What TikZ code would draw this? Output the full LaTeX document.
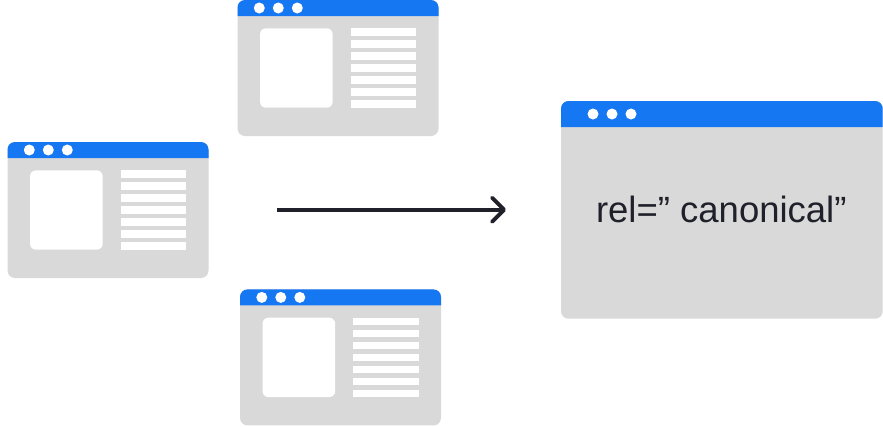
\documentclass[tikz,border=0pt]{standalone}
\usepackage{fontspec}
\setmainfont{Liberation Sans}
\usetikzlibrary{positioning,calc,arrows.meta}
\definecolor{framegray}{HTML}{D9D9D9}
\definecolor{headerblue}{HTML}{1677F2}
\definecolor{inkdark}{HTML}{1F2029}
\tikzset{
  frame body/.style={fill=framegray, rounded corners=7.5pt},
  frame header/.style={fill=headerblue},
  frame dot/.style={fill=white},
  content box/.style={fill=white, rounded corners=6pt},
  content line/.style={fill=white},
  pics/browserframe/.style n args={4}{
    code={
      \fill [frame body] (0,0) rectangle (#1,#2);
      \fill [frame header]
        (0,#3) [rounded corners=7.5pt] -- (0,0) -- (#1,0) [sharp corners] -- (#1,#3) -- cycle;
      \foreach \dotx in {0,19,38}
        \fill [frame dot] (#4+\dotx,#3/2) circle (5.5);
    }
  },
  pics/browserpage/.style={
    code={
      \pic {browserframe={201}{136}{16}{21.8}};
      \fill [content box] (22.5,28.3) rectangle (95.2,107.7);
      \foreach \liney in {0,...,6}
        \fill [content line] (113.2,28.3+12*\liney) rectangle ++(65.3,7.3);
    }
  }
}
\begin{document}
\begin{tikzpicture}[x=1pt,y=-1pt]
  \useasboundingbox (0,0) rectangle (883,426);
  \pic (toppage) at (237.5,0) {browserpage};
  \pic (leftpage) at (7.5,142) {browserpage};
  \pic (bottompage) at (240,289.4) {browserpage};
  \pic (bigpage) at (561,101) {browserframe={321.7}{217.7}{26}{32}};
  \node [anchor=base, inner sep=0, text=inkdark, font=\fontsize{36.5}{36.5}\selectfont]
    (canonicaltext) at (721.3,222) {rel=” canonical”};
  \coordinate (arrowstart) at (277,209.7);
  \coordinate (arrowend) at (506,209.7);
  \draw [inkdark, line width=3.9pt, -{Straight Barb[length=12pt, width=24pt, line cap=round, round]}]
    (arrowstart) -- (arrowend);
\end{tikzpicture}
\end{document}
